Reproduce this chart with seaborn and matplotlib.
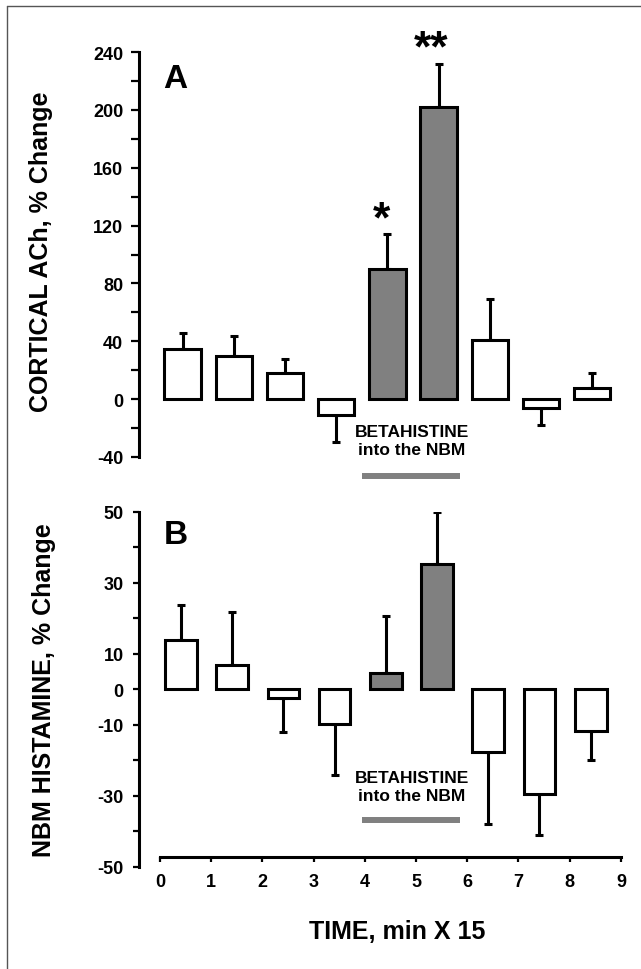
import numpy as np
import pandas as pd
import matplotlib
matplotlib.use('Agg')
import matplotlib.pyplot as plt
from matplotlib.lines import Line2D
from matplotlib.ticker import MultipleLocator, FixedLocator
import seaborn as sns

# =============================================================================
# dados
# =============================================================================

tempo = [0, 1, 2, 3, 4, 5, 6, 7, 8]
grupo = ['basal', 'basal', 'basal', 'basal', 'beta', 'beta', 'basal', 'basal', 'basal']

ach = [35, 30, 18, -11, 90, 202, 41, -6, 8]
ach_err = [46, 44, 28, -29.5, 114, 232, 69, -18, 18]

hist = [13.9, 6.8, -2.5, -9.7, 4.7, 35.4, -17.6, -29.4, -11.7]
hist_err = [23.6, 21.8, -12, -24, 20.6, 50, -37.8, -41, -20]

ticks_a = [-40, 0, 40, 80, 120, 160, 200, 240]
ticks_b = [-50, -30, -10, 0, 10, 30, 50]
ticks_b_menor = [-40, -20, 20, 40]
ticks_x = [0, 1, 2, 3, 4, 5, 6, 7, 8, 9]

cores = {'basal': 'white', 'beta': '#808080'}

sns.set_style('ticks')
plt.rcParams['font.family'] = ['Liberation Sans', 'DejaVu Sans']
plt.rcParams['font.weight'] = 'bold'
plt.rcParams['axes.unicode_minus'] = False
plt.rcParams['text.color'] = 'black'
plt.rcParams['axes.labelcolor'] = 'black'
plt.rcParams['xtick.color'] = 'black'
plt.rcParams['ytick.color'] = 'black'
plt.rcParams['axes.edgecolor'] = 'black'

fig = plt.figure(figsize=(6.41, 9.70), dpi=100)

W, H = 641, 970
esq = 139 / W
larg = (626 - 139) / W
axA = fig.add_axes([esq, 1 - 458 / H, larg, (458 - 53) / H])
axB = fig.add_axes([esq, 1 - 868 / H, larg, (868 - 512.7) / H])


def painel(ax, valores, erros, desloc, largura):
    df = pd.DataFrame({'x': np.array(tempo) + desloc, 'y': valores, 'g': grupo})
    sns.barplot(data=df, x='x', y='y', hue='g', palette=cores, native_scale=True,
                width=largura, dodge=False, legend=False, edgecolor='black',
                linewidth=2.2, errorbar=None, ax=ax, zorder=2)
    v = np.array(valores)
    e = np.array(erros)
    baixo = np.where(v < 0, v - e, 0)
    cima = np.where(v > 0, e - v, 0)
    ax.errorbar(df['x'], v, yerr=[baixo, cima], fmt='none', ecolor='black',
                elinewidth=2.2, capsize=3, capthick=2.2, zorder=1)
    ax.set_xlim(-0.41, 9.1)
    ax.set_xlabel('')
    ax.spines['top'].set_visible(False)
    ax.spines['right'].set_visible(False)
    ax.spines['left'].set_linewidth(2.2)
    return df


# =============================================================================
# Painel A
# =============================================================================

dfA = painel(axA, ach, ach_err, 0.44, 0.71)
axA.set_ylim(-40, 240)
axA.spines['left'].set_bounds(-40, 240)
axA.yaxis.set_major_locator(FixedLocator(ticks_a))
axA.yaxis.set_minor_locator(MultipleLocator(20))
axA.tick_params(axis='y', which='major', length=5.8, width=1.6, labelsize=13, pad=5.5)
axA.tick_params(axis='y', which='minor', length=5.8, width=1.6)
axA.spines['bottom'].set_visible(False)
axA.set_xticks([])
axA.set_ylabel('CORTICAL ACh, % Change', fontsize=18, fontweight='bold')
axA.yaxis.set_label_coords(-0.177, 0.51)

axA.text(0.3, 222, 'A', fontsize=24, fontweight='bold', ha='center', va='center')
axA.text(dfA['x'][4] - 0.12, 124, '*', fontsize=32, fontweight='bold', ha='center', va='center')
axA.text(dfA['x'][5] - 0.15, 242, '**', fontsize=32, fontweight='bold', ha='center', va='center')
axA.text(4.92, -28.4, 'BETAHISTINE\ninto the NBM', fontsize=12.5, fontweight='bold',
         ha='center', va='center', linespacing=1.25)
axA.plot([3.94, 5.85], [-53.3, -53.3], color='#808080', lw=4.3, clip_on=False,
         solid_capstyle='butt')

# =============================================================================
# Painel B
# =============================================================================

dfB = painel(axB, hist, hist_err, 0.41, 0.62)
axB.set_ylim(-50, 50)
axB.spines['left'].set_bounds(-50, 50)
axB.yaxis.set_major_locator(FixedLocator(ticks_b))
axB.yaxis.set_minor_locator(FixedLocator(ticks_b_menor))
axB.tick_params(axis='y', which='major', length=4, width=1.6, labelsize=13, pad=7)
axB.tick_params(axis='y', which='minor', length=4, width=1.6)
axB.spines['bottom'].set_position(('data', -47.2))
axB.spines['bottom'].set_bounds(0, 9)
axB.spines['bottom'].set_linewidth(2.2)
axB.set_xticks(ticks_x)
axB.set_xticklabels([str(t) for t in ticks_x])
axB.tick_params(axis='x', length=3.5, width=1.6, labelsize=13, pad=8)
axB.set_ylabel('NBM HISTAMINE, % Change', fontsize=18, fontweight='bold')
axB.yaxis.set_label_coords(-0.17, 0.5)
axB.set_xlabel('TIME, min X 15', fontsize=18, fontweight='bold')
axB.xaxis.set_label_coords(0.53, -0.145)

axB.text(0.3, 43.7, 'B', fontsize=24, fontweight='bold', ha='center', va='center')
axB.text(4.92, -27.3, 'BETAHISTINE\ninto the NBM', fontsize=12.5, fontweight='bold',
         ha='center', va='center', linespacing=1.25)
axB.plot([3.94, 5.85], [-36.7, -36.7], color='#808080', lw=4.3, clip_on=False,
         solid_capstyle='butt')

# moldura
fig.add_artist(Line2D([7 / W, 7 / W], [0, 1 - 7 / H], color='#555555', lw=1))
fig.add_artist(Line2D([7 / W, 1], [1 - 7 / H, 1 - 7 / H], color='#555555', lw=1))

fig.savefig('out.png', dpi=100)
